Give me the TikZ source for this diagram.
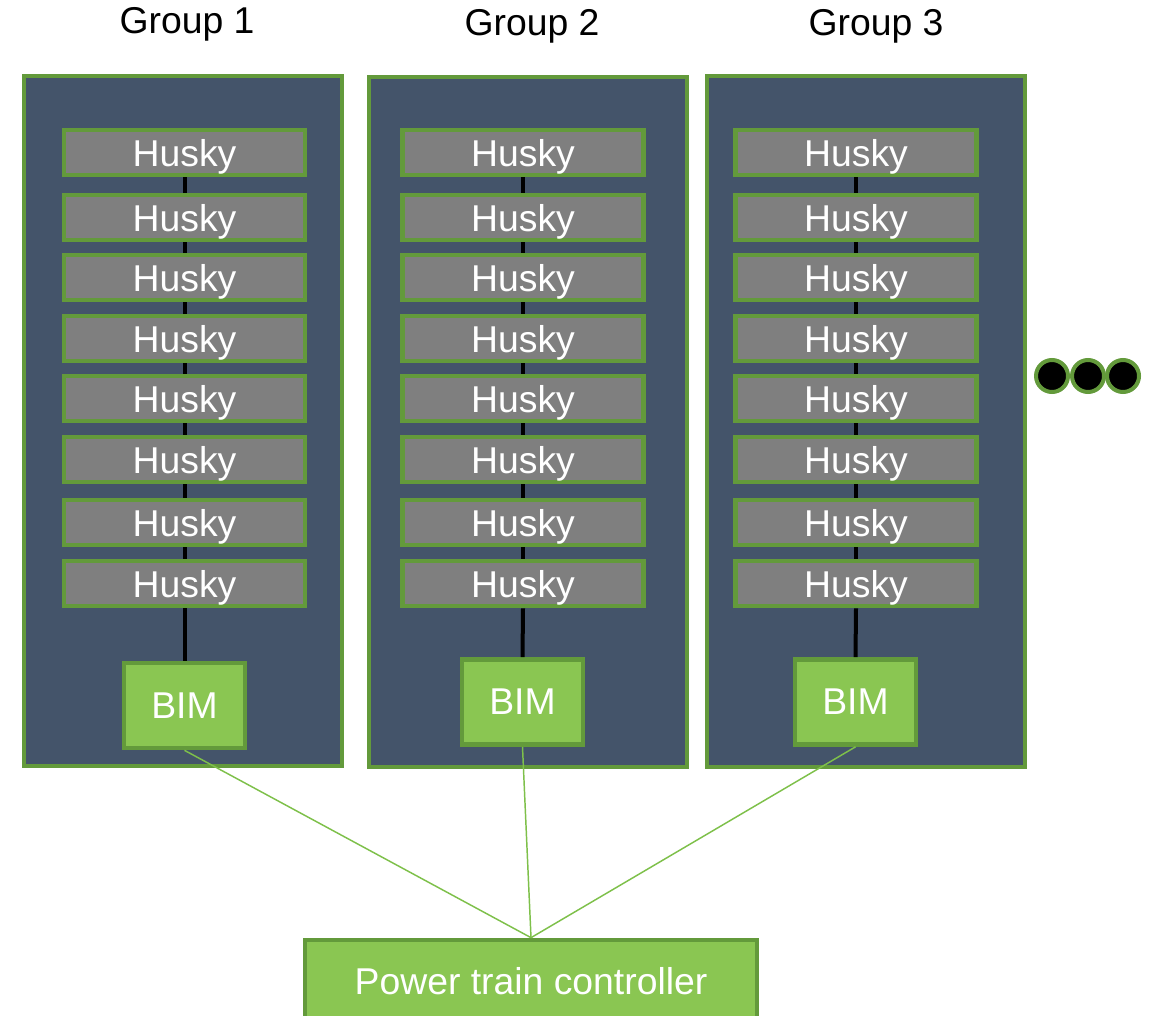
\documentclass[tikz,border=0pt]{standalone}
\usepackage{fontspec}
\setmainfont{Liberation Sans}
\definecolor{gborder}{HTML}{639A3B}
\definecolor{panelc}{HTML}{44546A}
\definecolor{huskyc}{HTML}{7F7F7F}
\definecolor{bimc}{HTML}{8AC652}
\definecolor{linkc}{HTML}{7EC04A}
\begin{document}
\begin{tikzpicture}[x=0.75pt,y=-0.75pt,
  font=\fontsize{28}{30}\selectfont,
  panel/.style={draw=gborder, fill=panelc, line width=3pt, minimum width=318*0.75pt, minimum height=690*0.75pt, inner sep=0pt},
  husky/.style={draw=gborder, fill=huskyc, line width=3.5pt, text=white, minimum width=241*0.75pt, minimum height=45*0.75pt, inner sep=0pt, text depth=0pt},
  bim/.style={draw=gborder, fill=bimc, line width=3.5pt, text=white, minimum width=121*0.75pt, minimum height=85*0.75pt, inner sep=0pt},
  ptc/.style={draw=gborder, fill=bimc, line width=3.5pt, text=white, minimum width=452*0.75pt, minimum height=100*0.75pt, inner sep=0pt},
  glabel/.style={text=black, inner sep=0pt},
  chain/.style={draw=black, line width=3pt},
  link/.style={draw=linkc, line width=1.1pt},
  dot/.style={circle, draw=gborder, fill=black, line width=3pt, minimum size=32*0.75pt, inner sep=0pt}
]
\useasboundingbox (0,0) rectangle (1152,1016);
\clip (0,0) rectangle (1152,1016);

% group labels
\node[glabel] (l1) at (187,24) {Group 1};
\node[glabel] (l2) at (532,26) {Group 2};
\node[glabel] (l3) at (876,26) {Group 3};

% panels
\node[panel] (p1) at (183,421) {};
\node[panel] (p2) at (528,422) {};
\node[panel] (p3) at (866,421.5) {};

% husky stacks
\foreach \g/\x in {1/184.5, 2/523, 3/856} {
  \foreach \r/\y in {1/152.5, 2/217.5, 3/277.5, 4/338.5, 5/398.5, 6/459.5, 7/522.5, 8/583.5} {
    \node[husky] (h\g-\r) at (\x,\y) {Husky};
  }
}

% BIMs
\node[bim] (b1) at (184.5,705.5) {BIM};
\node[bim] (b2) at (522.5,702) {BIM};
\node[bim] (b3) at (855.5,702) {BIM};

% chains
\foreach \g in {1,2,3} {
  \foreach \r [evaluate=\r as \n using int(\r+1)] in {1,...,7} {
    \draw[chain] (h\g-\r.south) -- (h\g-\n.north);
  }
  \draw[chain] (h\g-8.south) -- (b\g.north);
}

% power train controller
\node[ptc] (pt) at (531,990) {};
\node[text=white, inner sep=0pt] (ptt) at (531,981) {Power train controller};

% links
\draw[link] (b1.south) -- (pt.north);
\draw[link] (b2.south) -- (pt.north);
\draw[link] (b3.south) -- (pt.north);

% dots
\node[dot] (d1) at (1052,376) {};
\node[dot] (d2) at (1088,376) {};
\node[dot] (d3) at (1123,376) {};
\end{tikzpicture}
\end{document}
